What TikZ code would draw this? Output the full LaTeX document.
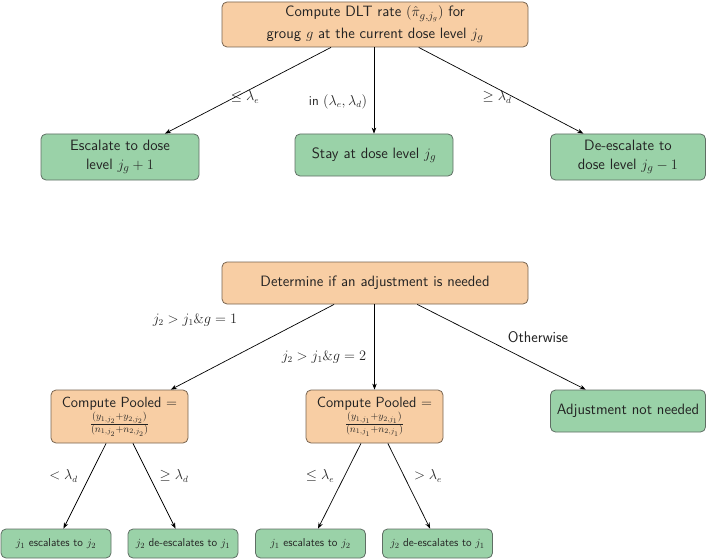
\documentclass[tikz,border=0pt]{standalone}
\usepackage{fontspec}
\usetikzlibrary{arrows.meta}
\definecolor{orfill}{RGB}{248,206,164}
\definecolor{ordraw}{RGB}{120,100,80}
\definecolor{grfill}{RGB}{154,210,168}
\definecolor{grdraw}{RGB}{95,110,100}
\definecolor{txt}{RGB}{35,35,35}
\tikzset{
  box/.style={draw, line width=0.8pt, rounded corners=5pt, align=center, inner sep=2pt,
    text=txt, font=\sffamily\fontsize{15}{19}\selectfont},
  obox/.style={box, fill=orfill, draw=ordraw},
  gbox/.style={box, fill=grfill, draw=grdraw},
  pbox/.style={obox, font=\sffamily\fontsize{14.7}{17}\selectfont},
  sbox/.style={gbox, font=\sffamily\fontsize{11.4}{13}\selectfont},
  lab/.style={text=txt, font=\sffamily\fontsize{13.5}{16}\selectfont, inner sep=0pt},
  arr/.style={-{Stealth[length=6pt,width=4.5pt]}, line width=0.7pt, black}
}
\begin{document}
\begin{tikzpicture}[x=1pt,y=-1pt]
\useasboundingbox (0,0) rectangle (709,559);
% top tree
\node[obox, minimum width=306pt, minimum height=45pt, inner sep=1pt] (top) at (375,24.5)
  {Compute DLT rate $(\hat{\pi}_{g,j_g})$ for\\[3pt] groug $g$ at the current dose level $j_g$};
\node[gbox, minimum width=158pt, minimum height=46pt] (esc) at (120,157)
  {Escalate to dose\\ level $j_g + 1$};
\node[gbox, minimum width=158pt, minimum height=42pt] (stay) at (374,155)
  {Stay at dose level $j_g$};
\node[gbox, minimum width=155pt, minimum height=46pt] (desc) at (628,157)
  {De-escalate to\\ dose level $j_g - 1$};
\draw[arr] (top) -- (esc);
\draw[arr] (top.south -| stay.north) -- (stay.north);
\draw[arr] (top) -- (desc);
\node[lab] (l1) at (245,97) {$\leq \lambda_e$};
\node[lab] (l2) at (338,102) {in $(\lambda_e,\lambda_d)$};
\node[lab] (l3) at (497,97) {$\geq \lambda_d$};
% second tree
\node[obox, minimum width=306pt, minimum height=42pt] (det) at (375,283)
  {Determine if an adjustment is needed};
\node[pbox, minimum width=137pt, minimum height=53pt] (p1) at (119.5,416.5)
  {Compute Pooled $=$\\[1pt] $\frac{(y_{1,j_2}+y_{2,j_2})}{(n_{1,j_2}+n_{2,j_2})}$};
\node[pbox, minimum width=137pt, minimum height=53pt] (p2) at (374.5,416.5)
  {Compute Pooled $=$\\[1pt] $\frac{(y_{1,j_1}+y_{2,j_1})}{(n_{1,j_1}+n_{2,j_1})}$};
\node[gbox, minimum width=155pt, minimum height=42pt] (adj) at (628,411)
  {Adjustment not needed};
\draw[arr] (det) -- (p1);
\draw[arr] (det.south -| p2.north) -- (p2.north);
\draw[arr] (det) -- (adj);
\node[lab] (m1) at (195,320) {$j_2 > j_1 \& g = 1$};
\node[lab] (m2) at (324,357) {$j_2 > j_1 \& g = 2$};
\node[lab, font=\sffamily\fontsize{15.5}{18}\selectfont] (m3) at (538,337) {Otherwise};
% bottom row
\node[sbox, minimum width=110pt, minimum height=29pt] (b1) at (56,543.5) {$j_1$ escalates to $j_2$};
\node[sbox, minimum width=110pt, minimum height=29pt] (b2) at (183,543.5) {$j_2$ de-escalates to $j_1$};
\node[sbox, minimum width=110pt, minimum height=29pt] (b3) at (310.5,543.5) {$j_1$ escalates to $j_2$};
\node[sbox, minimum width=110pt, minimum height=29pt] (b4) at (437.5,543.5) {$j_2$ de-escalates to $j_1$};
\draw[arr] (p1) -- (b1);
\draw[arr] (p1) -- (b2);
\draw[arr] (p2) -- (b3);
\draw[arr] (p2) -- (b4);
\node[lab] (n1) at (63.5,476) {$< \lambda_d$};
\node[lab] (n2) at (174,476) {$\geq \lambda_d$};
\node[lab] (n3) at (320,476) {$\leq \lambda_e$};
\node[lab] (n4) at (428,476) {$> \lambda_e$};
\end{tikzpicture}
\end{document}
